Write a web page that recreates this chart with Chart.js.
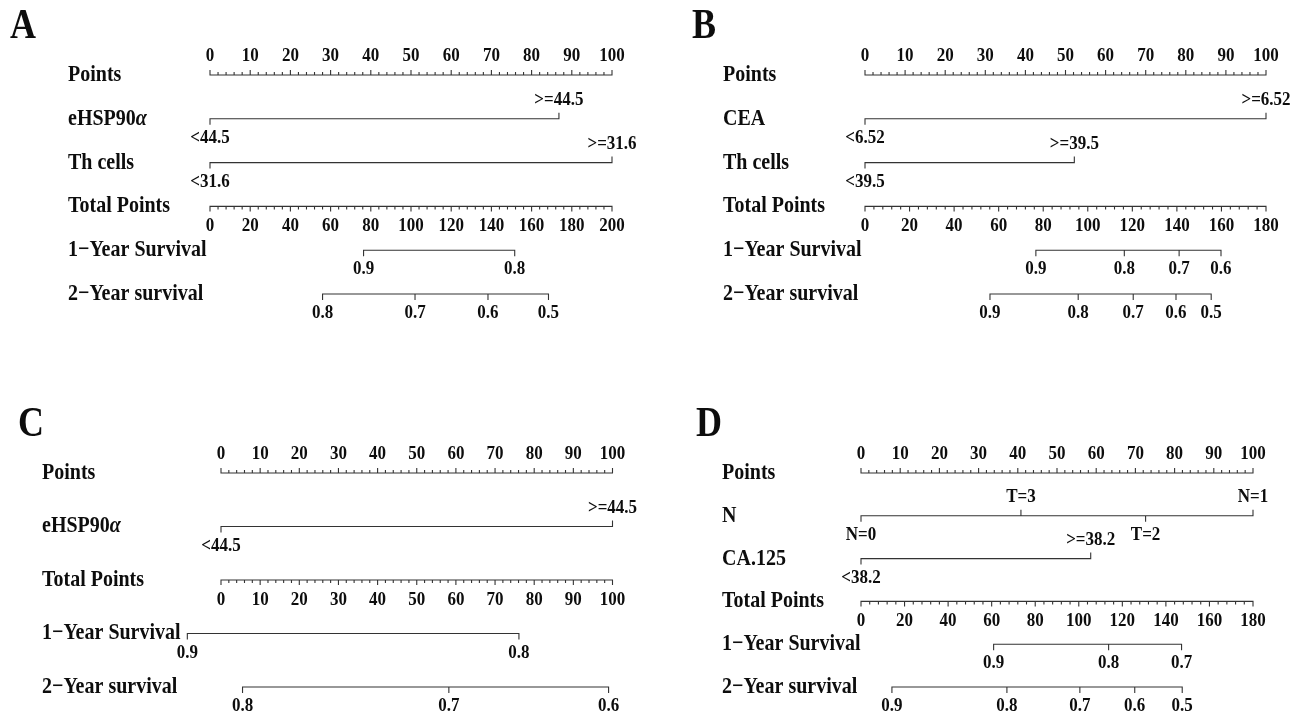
<!DOCTYPE html>
<html>
<head>
<meta charset="utf-8">
<script src="https://cdn.jsdelivr.net/npm/chart.js@4.4.1/dist/chart.umd.min.js"></script>
<style>
  html, body { margin: 0; padding: 0; background: #fff; }
  #lienzo { position: relative; width: 1308px; height: 713px; background: #fff; }
  canvas { position: absolute; }
</style>
</head>
<body>
<div id="lienzo">
  <canvas id="pA" width="654" height="356" style="left:0;top:0"></canvas>
  <canvas id="pB" width="654" height="356" style="left:654px;top:0"></canvas>
  <canvas id="pC" width="654" height="357" style="left:0;top:356px"></canvas>
  <canvas id="pD" width="654" height="357" style="left:654px;top:356px"></canvas>
</div>
<script>
// ---- datos del nomograma ----
const pointsTicks = [0, 10, 20, 30, 40, 50, 60, 70, 80, 90, 100];

// Panel A
const aVarNames = ['eHSP90α', 'Th cells'];
const aVarLevels = [['<44.5', '>=44.5'], ['<31.6', '>=31.6']];
const aVarPoints = [[0, 86.8], [0, 100]];
const aTotalTicks = [0, 20, 40, 60, 80, 100, 120, 140, 160, 180, 200];
const aSurv1Labels = ['0.9', '0.8'];
const aSurv1Total = [76.4, 151.6];
const aSurv2Labels = ['0.8', '0.7', '0.6', '0.5'];
const aSurv2Total = [56, 102, 138.3, 168.4];

// Panel B
const bVarNames = ['CEA', 'Th cells'];
const bVarLevels = [['<6.52', '>=6.52'], ['<39.5', '>=39.5']];
const bVarPoints = [[0, 100], [0, 52.2]];
const bTotalTicks = [0, 20, 40, 60, 80, 100, 120, 140, 160, 180];
const bSurv1Labels = ['0.9', '0.8', '0.7', '0.6'];
const bSurv1Total = [76.7, 116.4, 141, 159.8];
const bSurv2Labels = ['0.9', '0.8', '0.7', '0.6', '0.5'];
const bSurv2Total = [56.1, 95.7, 120.4, 139.6, 155.4];

// Panel C
const cVarNames = ['eHSP90α'];
const cVarLevels = [['<44.5', '>=44.5']];
const cVarPoints = [[0, 100]];
const cTotalTicks = [0, 10, 20, 30, 40, 50, 60, 70, 80, 90, 100];
const cSurv1Labels = ['0.9', '0.8'];
const cSurv1Total = [-8.6, 76.1];
const cSurv2Labels = ['0.8', '0.7', '0.6'];
const cSurv2Total = [5.5, 58.2, 99];

// Panel D
const dVarNames = ['N', 'CA.125'];
const dVarLevels = [['N=0', 'T=3', 'T=2', 'N=1'], ['<38.2', '>=38.2']];
const dVarPoints = [[0, 40.8, 72.6, 100], [0, 58.6]];
const dTotalTicks = [0, 20, 40, 60, 80, 100, 120, 140, 160, 180];
const dSurv1Labels = ['0.9', '0.8', '0.7'];
const dSurv1Total = [60.9, 113.7, 147.2];
const dSurv2Labels = ['0.9', '0.8', '0.7', '0.6', '0.5'];
const dSurv2Total = [14.2, 67, 100.5, 125.7, 147.5];

// ---- estilo ----
const COLOR_LINEA = '#333333';
const COLOR_TEXTO = '#0d0d0d';
const FUENTE = '"Liberation Serif", "Times New Roman", serif';
const ESTIRA_Y = 1.15;   // el texto original se ve algo alargado en vertical
const MARCA_MAYOR = 5;   // px
const MARCA_MENOR = 3;   // px
const MARCA_VAR = 6;     // px

const paneles = [
  { id: 'pA', letra: 'A', ejeIzq: 210, ejeDer: 612, fila0: 75, paso: 43.8, etiqX: 68, letraX: 10, letraY: 27,
    nombres: aVarNames, niveles: aVarLevels, puntos: aVarPoints, total: aTotalTicks,
    s1: aSurv1Total, s1e: aSurv1Labels, s2: aSurv2Total, s2e: aSurv2Labels },
  { id: 'pB', letra: 'B', ejeIzq: 211, ejeDer: 612, fila0: 75, paso: 43.8, etiqX: 69, letraX: 38, letraY: 27,
    nombres: bVarNames, niveles: bVarLevels, puntos: bVarPoints, total: bTotalTicks,
    s1: bSurv1Total, s1e: bSurv1Labels, s2: bSurv2Total, s2e: bSurv2Labels },
  { id: 'pC', letra: 'C', ejeIzq: 221, ejeDer: 612.5, fila0: 117, paso: 53.5, etiqX: 42, letraX: 18, letraY: 69,
    nombres: cVarNames, niveles: cVarLevels, puntos: cVarPoints, total: cTotalTicks,
    s1: cSurv1Total, s1e: cSurv1Labels, s2: cSurv2Total, s2e: cSurv2Labels },
  { id: 'pD', letra: 'D', ejeIzq: 207, ejeDer: 599, fila0: 117, paso: 42.8, etiqX: 68, letraX: 42, letraY: 69,
    nombres: dVarNames, niveles: dVarLevels, puntos: dVarPoints, total: dTotalTicks,
    s1: dSurv1Total, s1e: dSurv1Labels, s2: dSurv2Total, s2e: dSurv2Labels }
];

// polilinea de un eje: recorre las marcas en orden y sube/baja en cada una
function ejeConMarcas(fila, marcas) {
  const orden = marcas.slice().sort((a, b) => a.v - b.v);
  const data = [];
  orden.forEach(m => {
    data.push({ x: m.v, y: fila });
    data.push({ x: m.v, y: fila + m.largo });
    data.push({ x: m.v, y: fila });
  });
  return {
    data,
    showLine: true,
    borderColor: COLOR_LINEA,
    borderWidth: 1.1,
    pointRadius: 0,
    tension: 0,
    fill: false
  };
}

function textoEscalado(ctx, str, x, y, font, align) {
  ctx.save();
  ctx.font = font;
  ctx.textAlign = align;
  ctx.textBaseline = 'middle';
  ctx.fillStyle = COLOR_TEXTO;
  ctx.translate(x, y);
  ctx.scale(1, ESTIRA_Y);
  ctx.fillText(str, 0, 0);
  ctx.restore();
}

function dibujarNomograma(p) {
  const canvas = document.getElementById(p.id);
  const ctx = canvas.getContext('2d');
  const W = canvas.width, H = canvas.height;
  const pxPunto = (p.ejeDer - p.ejeIzq) / 100;
  const xMin = -p.ejeIzq / pxPunto;
  const xMax = xMin + W / pxPunto;
  const yMin = -p.fila0 / p.paso;
  const yMax = yMin + H / p.paso;

  const totalMax = p.total[p.total.length - 1];
  const aPuntos = t => t * 100 / totalMax;   // puntos totales -> escala de puntos

  const nVar = p.nombres.length;
  const filaTotal = nVar + 1;
  const filaS1 = nVar + 2;
  const filaS2 = nVar + 3;
  const filas = ['Points', ...p.nombres, 'Total Points', '1\u2212Year Survival', '2\u2212Year survival'];

  const datasets = [];

  // eje Points (marcas hacia arriba)
  const marcasPts = [];
  const pasoPts = (pointsTicks[1] - pointsTicks[0]) / 5;
  for (let v = 0; v <= 100 + 1e-9; v += pasoPts) {
    const mayor = pointsTicks.some(t => Math.abs(t - v) < 1e-6);
    marcasPts.push({ v, largo: -(mayor ? MARCA_MAYOR : MARCA_MENOR) / p.paso });
  }
  datasets.push(ejeConMarcas(0, marcasPts));

  // variables
  p.puntos.forEach((pts, i) => {
    const marcas = pts.map((v, k) => ({ v, largo: (k % 2 === 0 ? 1 : -1) * MARCA_VAR / p.paso }));
    datasets.push(ejeConMarcas(i + 1, marcas));
  });

  // eje Total Points (marcas hacia abajo)
  const marcasTot = [];
  const pasoTot = (p.total[1] - p.total[0]) / 5;
  for (let t = 0; t <= totalMax + 1e-9; t += pasoTot) {
    const mayor = p.total.some(tt => Math.abs(tt - t) < 1e-6);
    marcasTot.push({ v: aPuntos(t), largo: (mayor ? MARCA_MAYOR : MARCA_MENOR) / p.paso });
  }
  datasets.push(ejeConMarcas(filaTotal, marcasTot));

  // supervivencia
  datasets.push(ejeConMarcas(filaS1, p.s1.map(t => ({ v: aPuntos(t), largo: MARCA_VAR / p.paso }))));
  datasets.push(ejeConMarcas(filaS2, p.s2.map(t => ({ v: aPuntos(t), largo: MARCA_VAR / p.paso }))));

  const textos = {
    id: 'textosNomograma',
    afterDatasetsDraw(chart) {
      const c = chart.ctx;
      const sx = chart.scales.x, sy = chart.scales.y;
      const fRow = 'bold 20px ' + FUENTE;
      const fTick = 'bold 17px ' + FUENTE;

      // letra del panel
      textoEscalado(c, p.letra, p.letraX, p.letraY, 'bold 36px ' + FUENTE, 'left');

      // nombres de filas
      filas.forEach((nombre, i) => {
        const y = sy.getPixelForValue(i);
        if (nombre.endsWith('\u03b1')) {
          const base = nombre.slice(0, -1);
          c.save();
          c.font = fRow;
          const w = c.measureText(base).width;
          c.restore();
          textoEscalado(c, base, p.etiqX, y, fRow, 'left');
          textoEscalado(c, '\u03b1', p.etiqX + w, y, 'italic ' + fRow, 'left');
        } else {
          textoEscalado(c, nombre, p.etiqX, y, fRow, 'left');
        }
      });

      // etiquetas de Points (arriba)
      pointsTicks.forEach(t => {
        textoEscalado(c, String(t), sx.getPixelForValue(t), sy.getPixelForValue(0) - 19, fTick, 'center');
      });

      // niveles de cada variable
      p.puntos.forEach((pts, i) => {
        const y = sy.getPixelForValue(i + 1);
        pts.forEach((v, k) => {
          const dy = k % 2 === 0 ? 19 : -19;
          textoEscalado(c, p.niveles[i][k], sx.getPixelForValue(v), y + dy, fTick, 'center');
        });
      });

      // etiquetas Total Points (abajo)
      p.total.forEach(t => {
        textoEscalado(c, String(t), sx.getPixelForValue(aPuntos(t)), sy.getPixelForValue(filaTotal) + 20, fTick, 'center');
      });

      // etiquetas supervivencia
      p.s1.forEach((t, k) => {
        textoEscalado(c, p.s1e[k], sx.getPixelForValue(aPuntos(t)), sy.getPixelForValue(filaS1) + 19, fTick, 'center');
      });
      p.s2.forEach((t, k) => {
        textoEscalado(c, p.s2e[k], sx.getPixelForValue(aPuntos(t)), sy.getPixelForValue(filaS2) + 19, fTick, 'center');
      });
    }
  };

  return new Chart(ctx, {
    type: 'scatter',
    data: { datasets },
    options: {
      responsive: false,
      animation: false,
      events: [],
      layout: { padding: 0 },
      plugins: { legend: { display: false }, tooltip: { enabled: false } },
      scales: {
        x: { type: 'linear', display: false, min: xMin, max: xMax },
        y: { type: 'linear', display: false, reverse: true, min: yMin, max: yMax }
      }
    },
    plugins: [textos]
  });
}

paneles.forEach(dibujarNomograma);
</script>
</body>
</html>
